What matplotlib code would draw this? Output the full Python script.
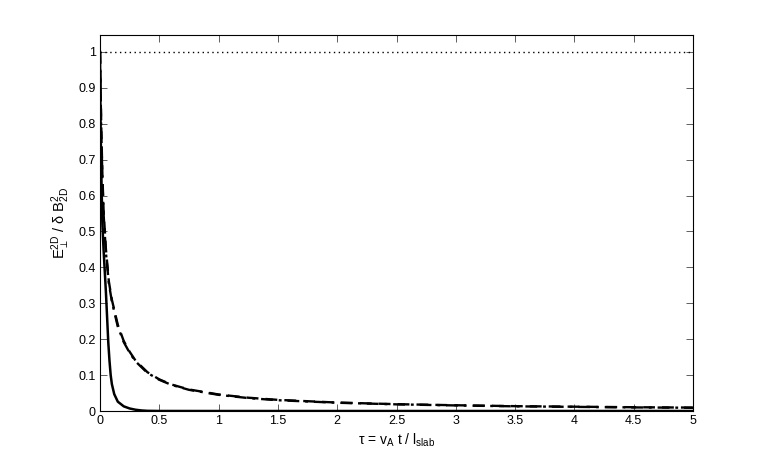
import matplotlib
matplotlib.use("Agg")
import matplotlib.pyplot as plt

plt.rcParams['font.family'] = ['Liberation Sans', 'DejaVu Sans']
plt.rcParams['mathtext.fontset'] = 'custom'
plt.rcParams['mathtext.rm'] = 'Liberation Sans'
plt.rcParams['mathtext.it'] = 'Liberation Sans'
plt.rcParams['mathtext.bf'] = 'Liberation Sans'
plt.rcParams['mathtext.sf'] = 'Liberation Sans'

# --- data ---
tau_solid = [0, 0.005, 0.01, 0.02, 0.03, 0.04, 0.05, 0.06, 0.07, 0.08, 0.09, 0.1,
             0.12, 0.15, 0.2, 0.25, 0.3, 0.35, 0.4, 0.5, 1, 2, 3, 4, 5]
val_solid = [1.0, 0.80, 0.68, 0.52, 0.45, 0.39, 0.33, 0.26, 0.19, 0.14, 0.10, 0.075,
             0.047, 0.026, 0.013, 0.007, 0.0035, 0.0015, 0.0005, 0.0001, 0, 0, 0, 0, 0]

tau_dash = [0, 0.005, 0.01, 0.02, 0.03, 0.05, 0.075, 0.1, 0.15, 0.2, 0.25, 0.3, 0.4,
            0.5, 0.6, 0.75, 1, 1.25, 1.5, 2, 2.5, 3, 3.5, 4, 4.5, 5]
val_dash = [1.0, 0.90, 0.80, 0.66, 0.56, 0.45, 0.36, 0.31, 0.24, 0.195, 0.165, 0.14, 0.108,
            0.088, 0.074, 0.060, 0.046, 0.037, 0.031, 0.0235, 0.019, 0.016, 0.0135, 0.012,
            0.0105, 0.0095]
val_dashdot = [1.0, 0.89, 0.79, 0.65, 0.55, 0.44, 0.355, 0.305, 0.235, 0.192, 0.162, 0.138, 0.106,
               0.087, 0.073, 0.059, 0.045, 0.036, 0.030, 0.023, 0.0185, 0.0155, 0.013, 0.0115,
               0.010, 0.009]

tau_ref = [0, 5]
val_ref = [1, 1]

x_ticks = [0, 0.5, 1, 1.5, 2, 2.5, 3, 3.5, 4, 4.5, 5]
x_labels = ['0', '0.5', '1', '1.5', '2', '2.5', '3', '3.5', '4', '4.5', '5']
y_ticks = [0, 0.1, 0.2, 0.3, 0.4, 0.5, 0.6, 0.7, 0.8, 0.9, 1]
y_labels = ['0', '0.1', '0.2', '0.3', '0.4', '0.5', '0.6', '0.7', '0.8', '0.9', '1']

fig = plt.figure(figsize=(7.66, 4.63), dpi=100)
ax = fig.add_axes([100/766, 52/463, 593/766, 376/463])

ax.plot(tau_ref, val_ref, color='black', linestyle=(0, (1, 2.5)), linewidth=1.0)
ax.plot(tau_solid, val_solid, color='black', linestyle='-', linewidth=1.8)
ax.plot(tau_dash, val_dash, color='black', linestyle=(0, (5, 3)), linewidth=1.7)
ax.plot(tau_dash, val_dashdot, color='black', linestyle=(0, (5, 2.5, 1.2, 2.5)), linewidth=1.7)

ax.set_xlim(0, 5)
ax.set_ylim(0, 1.047)
ax.set_xticks(x_ticks)
ax.set_xticklabels(x_labels)
ax.set_yticks(y_ticks)
ax.set_yticklabels(y_labels)
ax.tick_params(direction='in', length=5, width=0.6, top=True, right=True,
               labelsize=9, pad=3, color='#444444')
for s in ax.spines.values():
    s.set_linewidth(0.8)

ax.set_xlabel(r'$\tau$ = v$_\mathrm{A}$ t / l$_\mathrm{slab}$', fontsize=10, labelpad=3)
ax.set_ylabel(r'E$_\perp^\mathrm{2D}$ / $\delta$ B$^2_\mathrm{2D}$', fontsize=10.5, labelpad=5)

fig.savefig('out.png', dpi=100)
